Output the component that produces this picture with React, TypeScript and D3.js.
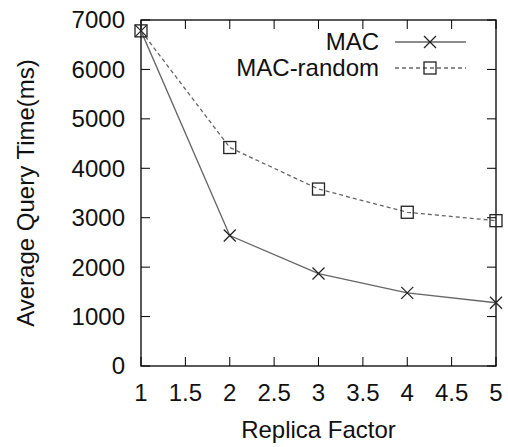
import React from "react";
import * as d3 from "d3";

const xValues = [1, 2, 3, 4, 5];
const macValues = [6780, 2640, 1870, 1480, 1280];
const macRandomValues = [6780, 4420, 3580, 3110, 2940];
const xTicks = [1, 1.5, 2, 2.5, 3, 3.5, 4, 4.5, 5];
const yTicks = [0, 1000, 2000, 3000, 4000, 5000, 6000, 7000];
const seriesNames = ["MAC", "MAC-random"];

const W = 508, H = 447;
const L = 141, R = 496, T = 20, B = 366;
const FONT = "'Liberation Sans', Arial, sans-serif";

export default function App() {
  const x = d3.scaleLinear().domain([1, 5]).range([L, R]);
  const y = d3.scaleLinear().domain([0, 7000]).range([B, T]);
  const line = d3.line<number>().x((_, i) => x(xValues[i])).y((d) => y(d));
  const tick = 9;
  const fs = 24;
  const lineColor = "#666";
  const markColor = "#222";

  const cross = (cx: number, cy: number, k: string) => (
    <g key={k} stroke={markColor} strokeWidth={1.3}>
      <line x1={cx - 6} y1={cy - 6} x2={cx + 6} y2={cy + 6} />
      <line x1={cx - 6} y1={cy + 6} x2={cx + 6} y2={cy - 6} />
    </g>
  );
  const square = (cx: number, cy: number, k: string) => (
    <rect key={k} x={cx - 6} y={cy - 6} width={12} height={12} fill="none" stroke={markColor} strokeWidth={1.3} />
  );

  return (
    <svg width={W} height={H} style={{ position: "absolute", left: 0, top: 0, background: "#fff" }} fontFamily={FONT}>
      <rect width={W} height={H} fill="#fff" />
      {/* ticks */}
      {yTicks.map((t) => (
        <g key={"y" + t}>
          <line x1={L} x2={L + tick} y1={y(t)} y2={y(t)} stroke="#000" />
          <line x1={R} x2={R - tick} y1={y(t)} y2={y(t)} stroke="#000" />
          <text x={L - 16} y={y(t)} dy="0.35em" textAnchor="end" fontSize={fs} fill="#111">{t}</text>
        </g>
      ))}
      {xTicks.map((t) => (
        <g key={"x" + t}>
          <line x1={x(t)} x2={x(t)} y1={B} y2={B - tick} stroke="#000" />
          <line x1={x(t)} x2={x(t)} y1={T} y2={T + tick} stroke="#000" />
          <text x={x(t)} y={401} textAnchor="middle" fontSize={fs} fill="#111">{t}</text>
        </g>
      ))}
      <rect x={L} y={T} width={R - L} height={B - T} fill="none" stroke="#000" strokeWidth={1.3} />
      {/* series */}
      <path d={line(macValues) || ""} fill="none" stroke={lineColor} strokeWidth={1.3} />
      <path d={line(macRandomValues) || ""} fill="none" stroke={lineColor} strokeWidth={1.3} strokeDasharray="4,3" />
      {macValues.map((v, i) => cross(x(xValues[i]), y(v), "c" + i))}
      {macRandomValues.map((v, i) => square(x(xValues[i]), y(v), "s" + i))}
      {/* legend */}
      <text x={379} y={42} dy="0.35em" textAnchor="end" fontSize={fs} fill="#111">{seriesNames[0]}</text>
      <line x1={395} x2={466} y1={42} y2={42} stroke={lineColor} strokeWidth={1.3} />
      {cross(430, 42, "lc")}
      <text x={379} y={68} dy="0.35em" textAnchor="end" fontSize={fs} fill="#111">{seriesNames[1]}</text>
      <line x1={395} x2={466} y1={68} y2={68} stroke={lineColor} strokeWidth={1.3} strokeDasharray="4,3" />
      {square(430, 68, "ls")}
      {/* axis titles */}
      <text x={(L + R) / 2} y={438} textAnchor="middle" fontSize={fs} fill="#111">Replica Factor</text>
      <text transform={`translate(34,${(T + B) / 2}) rotate(-90)`} textAnchor="middle" fontSize={fs} fill="#111">Average Query Time(ms)</text>
    </svg>
  );
}
